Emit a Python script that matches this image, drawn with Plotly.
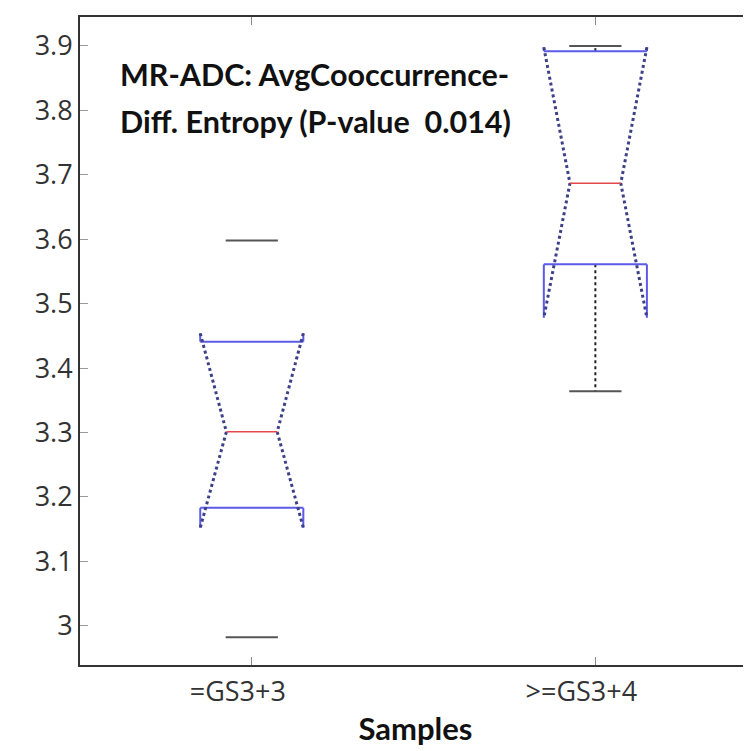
import plotly.graph_objects as go

# ---- data ----
categories = ["=GS3+3", ">=GS3+4"]
upper_whisker = [3.598, 3.900]
q3_values = [3.441, 3.892]
median_values = [3.301, 3.687]
q1_values = [3.183, 3.561]
lower_whisker = [2.982, 3.364]
notch_high = [3.454, 3.898]
notch_low = [3.152, 3.478]
whisker_line_visible = [False, True]
y_ticks = [3.0, 3.1, 3.2, 3.3, 3.4, 3.5, 3.6, 3.7, 3.8, 3.9]
y_tick_text = ["3", "3.1", "3.2", "3.3", "3.4", "3.5", "3.6", "3.7", "3.8", "3.9"]

# ---- styling ----
BOX_HW = 0.15
NOTCH_HW = 0.074
CAP_HW = 0.076
BLUE = "#5b5be8"
NOTCH_C = "#3d4088"
RED = "#e5484a"
CAP_C = "#555555"
WHISK_C = "#222222"

fig = go.Figure()

def seg(x, y, color, width, dash="solid"):
    fig.add_trace(go.Scatter(x=x, y=y, mode="lines",
                             line=dict(color=color, width=width, dash=dash),
                             hoverinfo="skip", showlegend=False))

positions = list(range(1, len(categories) + 1))
for i, c in enumerate(positions):
    uw, q3, med, q1, lw = upper_whisker[i], q3_values[i], median_values[i], q1_values[i], lower_whisker[i]
    nh, nl = notch_high[i], notch_low[i]
    if whisker_line_visible[i]:
        seg([c, c], [q3, uw], WHISK_C, 2, "dot")
        seg([c, c], [q1, lw], WHISK_C, 2, "dot")
    # caps
    seg([c - CAP_HW, c + CAP_HW], [uw, uw], CAP_C, 2)
    seg([c - CAP_HW, c + CAP_HW], [lw, lw], CAP_C, 2)
    # box horizontal edges
    seg([c - BOX_HW, c + BOX_HW], [q3, q3], BLUE, 2)
    seg([c - BOX_HW, c + BOX_HW], [q1, q1], BLUE, 2)
    # box vertical legs where notch exceeds the box
    if nl < q1:
        seg([c - BOX_HW, c - BOX_HW], [q1, nl], BLUE, 2)
        seg([c + BOX_HW, c + BOX_HW], [q1, nl], BLUE, 2)
    if nh > q3:
        seg([c - BOX_HW, c - BOX_HW], [q3, nh], BLUE, 2)
        seg([c + BOX_HW, c + BOX_HW], [q3, nh], BLUE, 2)
    # notches (dotted)
    seg([c - BOX_HW, c - NOTCH_HW, c - BOX_HW], [nh, med, nl], NOTCH_C, 3, "dot")
    seg([c + BOX_HW, c + NOTCH_HW, c + BOX_HW], [nh, med, nl], NOTCH_C, 3, "dot")
    # median
    seg([c - NOTCH_HW, c + NOTCH_HW], [med, med], RED, 1.5)

fig.add_annotation(text="<b>MR-ADC: AvgCooccurrence-</b>", xref="x", yref="paper",
                   x=0.612, y=0.912, xanchor="left", yanchor="middle", showarrow=False,
                   font=dict(family="Lato", size=30.5, color="#111111"))
fig.add_annotation(text="<b>Diff. Entropy (P-value  0.014)</b>", xref="x", yref="paper",
                   x=0.612, y=0.840, xanchor="left", yanchor="middle", showarrow=False,
                   font=dict(family="Lato", size=30.5, color="#111111"))

# The page body adds an 8px offset; the figure is sized so the page does not overflow.
fig.update_layout(
    width=743, height=743,
    margin=dict(l=72, r=0, t=9, b=86),
    plot_bgcolor="white", paper_bgcolor="white",
    font=dict(family="Open Sans", color="#333333"),
    xaxis=dict(range=[0.5, 2.453], tickvals=positions, ticktext=categories,
               automargin=False,
               showgrid=False, zeroline=False, showline=True, linecolor="#333333",
               linewidth=2, mirror="ticks", ticks="inside", ticklen=8, tickcolor="#888888",
               tickfont=dict(family="Open Sans", size=27, color="#333333"),
               ticklabelshift=-14, ticklabelstandoff=2,
               title=dict(text="<b>Samples</b>", font=dict(family="Lato", size=31, color="#111111"),
                          standoff=10)),
    yaxis=dict(range=[2.939, 3.945], tickvals=y_ticks, ticktext=y_tick_text,
               automargin=False,
               showgrid=False, zeroline=False, showline=True, linecolor="#333333",
               linewidth=2, mirror=False, ticks="inside", ticklen=8, tickcolor="#999999",
               tickfont=dict(family="Open Sans", size=27, color="#333333")),
)

fig.write_html("out.html")
